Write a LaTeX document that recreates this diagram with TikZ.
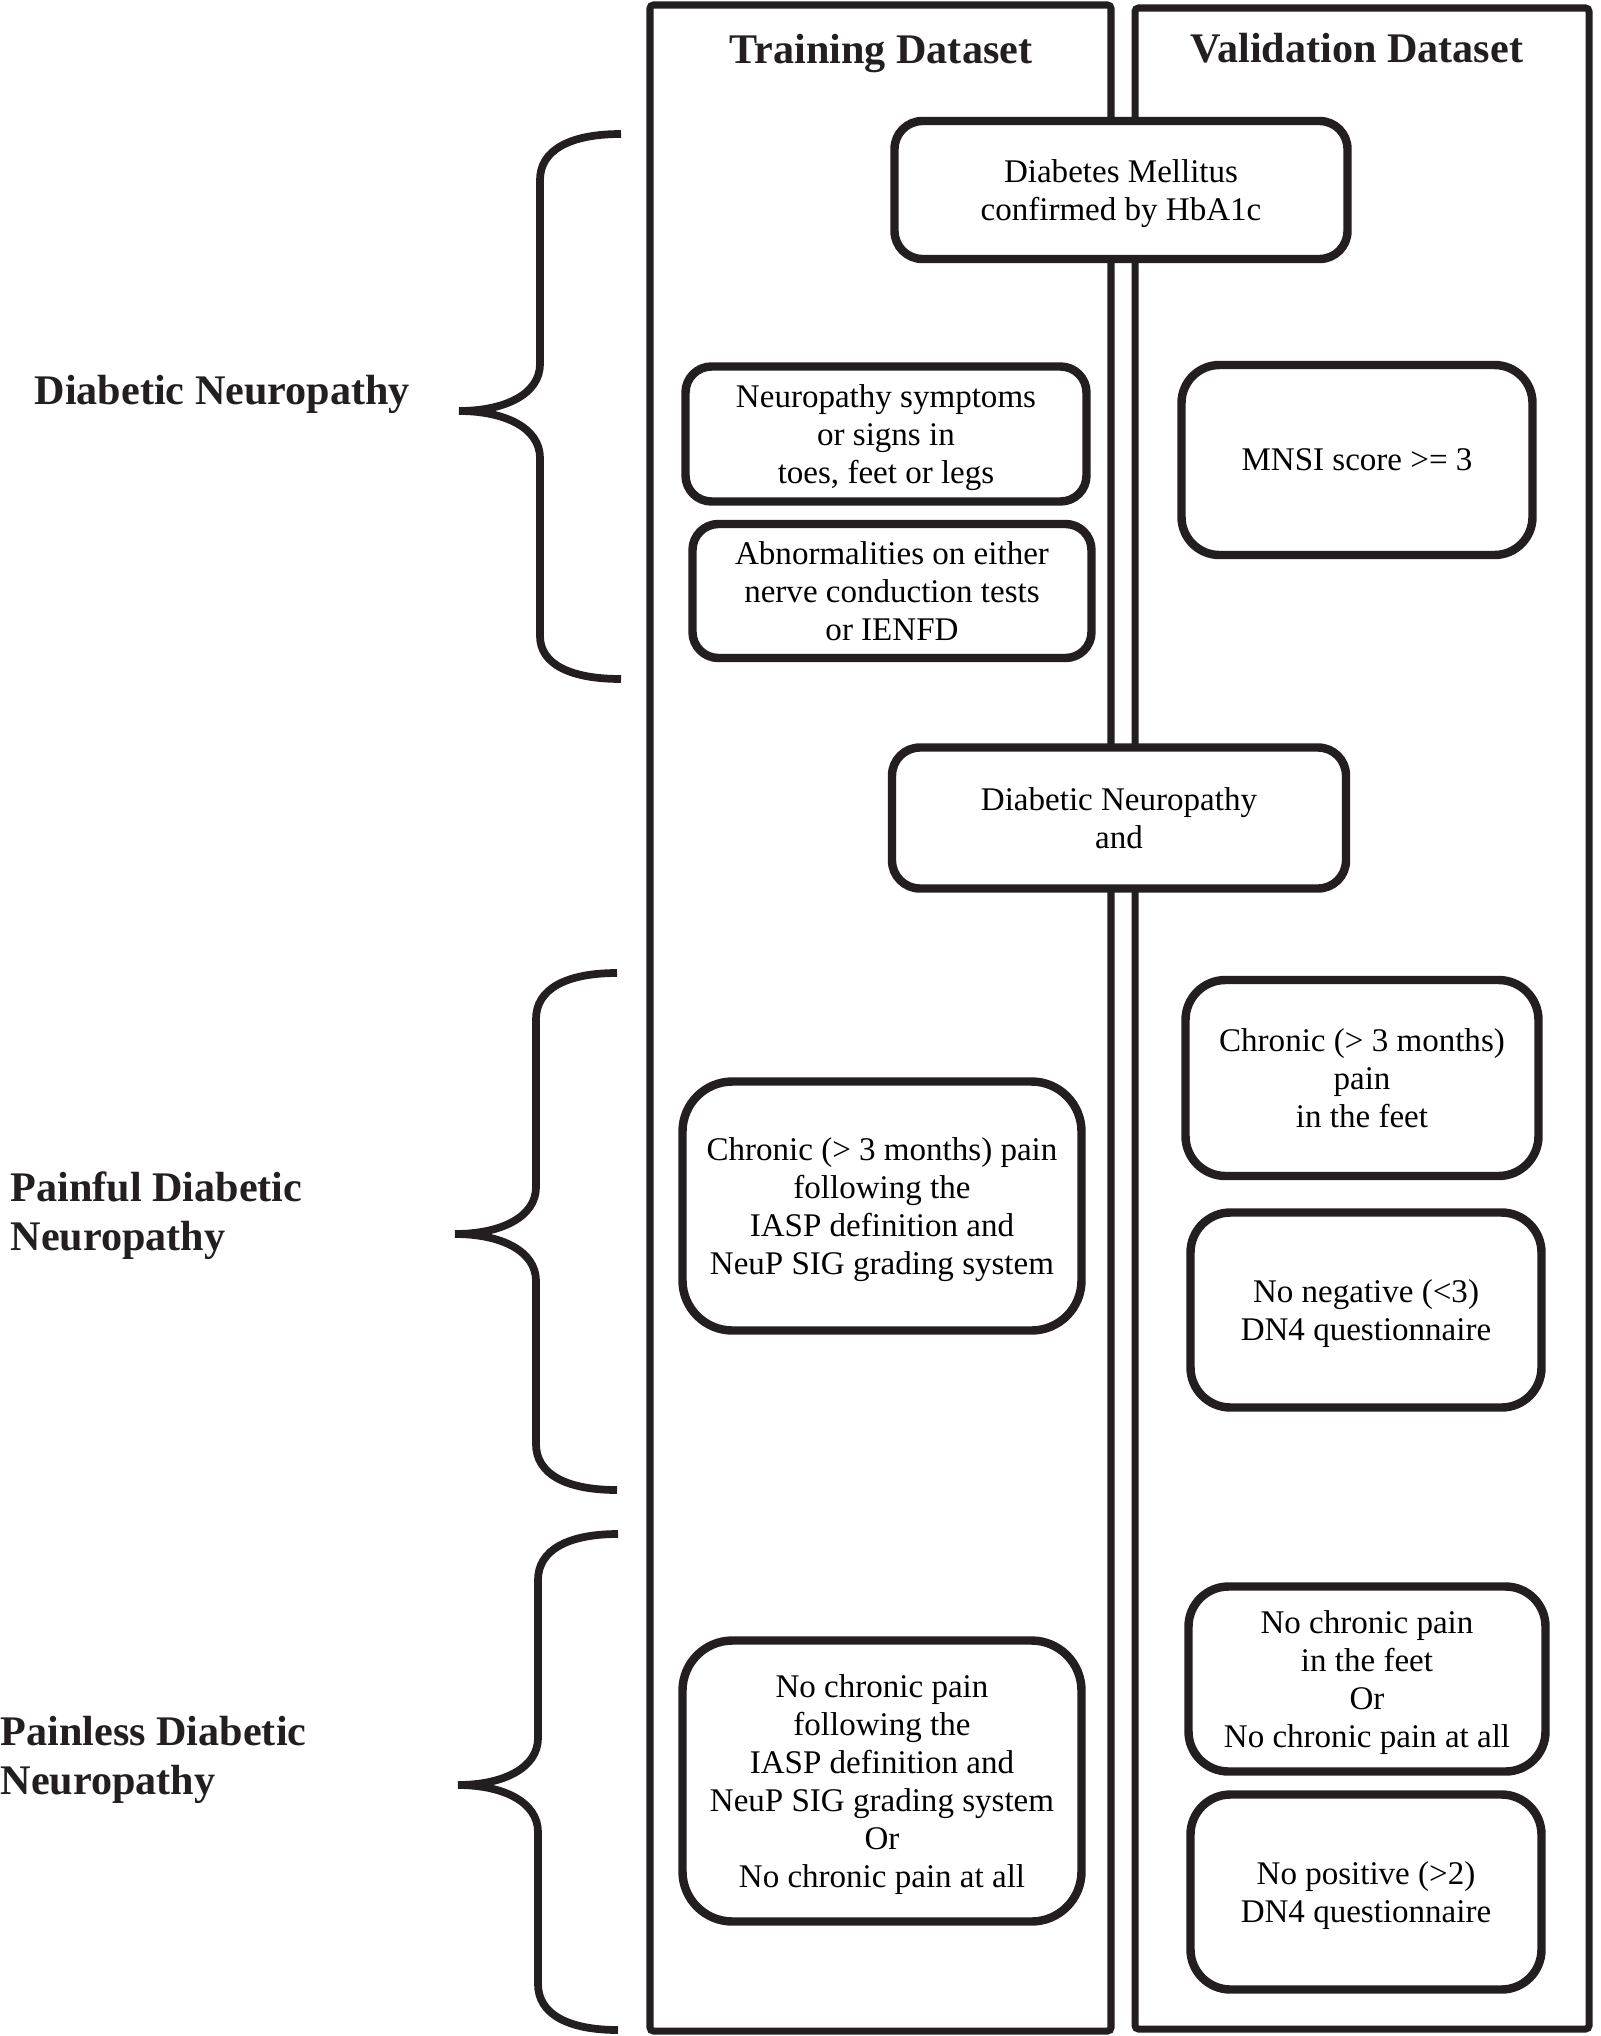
\documentclass[tikz,border=0pt]{standalone}
\usepackage{fontspec}
\setmainfont{Liberation Serif}
\definecolor{ink}{HTML}{231F20}

\tikzset{
	crit/.style={draw=ink, line width=2.4pt, fill=white, align=center, inner sep=0pt,
		font=\fontsize{9.4}{10.8}\selectfont, text depth=-2pt},
	column/.style={draw=ink, line width=2pt, rounded corners=1pt},
	header/.style={text=ink, anchor=base, font=\bfseries\fontsize{12}{14}\selectfont},
	group/.style={text=ink, inner sep=0pt, align=left, font=\bfseries\fontsize{12}{14}\selectfont},
	brace/.style={draw=ink, line width=2.2pt}
}

\begin{document}
\begin{tikzpicture}[x=0.1mm, y=-0.1mm]
	\useasboundingbox (0,0) rectangle (1600,2036);

	%Columns
	\draw[column] (650,5) rectangle (1111,2031);
	\draw[column] (1135,8) rectangle (1589,2029);
	\node[header] (train) at (881,63.5) {Training Dataset};
	\node[header] (valid) at (1357,62.5) {Validation Dataset};

	%Diabetic neuropathy
	\node[crit, rounded corners=2.8mm, minimum width=4.53cm, minimum height=1.38cm] (dm) at (1121,190) {Diabetes Mellitus\\confirmed by HbA1c};
	\node[crit, rounded corners=2.6mm, minimum width=4.01cm, minimum height=1.35cm] (symp) at (886,434) {Neuropathy symptoms\\or signs in\\toes, feet or legs};
	\node[crit, rounded corners=2.6mm, minimum width=3.99cm, minimum height=1.34cm] (abn) at (892,591) {Abnormalities on either\\nerve conduction tests\\or IENFD};
	\node[crit, rounded corners=3.8mm, minimum width=3.51cm, minimum height=1.90cm] (mnsi) at (1357,460) {MNSI score >= 3};
	\node[crit, rounded corners=2.8mm, minimum width=4.54cm, minimum height=1.41cm] (dn) at (1119,818) {Diabetic Neuropathy\\and};

	%Painful
	\node[crit, rounded corners=5mm, minimum width=3.99cm, minimum height=2.49cm] (chrpain) at (882,1206) {Chronic (> 3 months) pain\\following the\\IASP definition and\\NeuP SIG grading system};
	\node[crit, rounded corners=4mm, minimum width=3.53cm, minimum height=1.96cm] (chrfeet) at (1362,1078) {Chronic (> 3 months)\\pain\\in the feet};
	\node[crit, rounded corners=4mm, minimum width=3.51cm, minimum height=1.95cm] (dnneg) at (1366,1310) {No negative (<3)\\DN4 questionnaire};

	%Painless
	\node[crit, rounded corners=5mm, minimum width=3.99cm, minimum height=2.81cm] (nopain) at (882,1781) {No chronic pain\\following the\\IASP definition and\\NeuP SIG grading system\\Or\\No chronic pain at all};
	\node[crit, rounded corners=4mm, minimum width=3.57cm, minimum height=1.85cm] (nofeet) at (1367,1679) {No chronic pain\\in the feet\\Or\\No chronic pain at all};
	\node[crit, rounded corners=4mm, minimum width=3.51cm, minimum height=1.95cm] (dnpos) at (1366,1892) {No positive (>2)\\DN4 questionnaire};

	%Braces
	\draw[brace] (621,134) .. controls (570,134) and (540,150) .. (540,180) -- (540,364)
		.. controls (540,394) and (505,411) .. (459,411)
		.. controls (505,411) and (540,428) .. (540,458) -- (540,636)
		.. controls (540,664) and (570,679) .. (621,679);
	\node[group, anchor=west] (dnlab) at (34,394) {Diabetic Neuropathy};

	\draw[brace] (617,973) .. controls (566,973) and (536,989) .. (536,1019) -- (536,1187)
		.. controls (536,1217) and (501,1234) .. (455,1234)
		.. controls (501,1234) and (536,1251) .. (536,1281) -- (536,1444)
		.. controls (536,1474) and (566,1490) .. (617,1490);
	\node[group, anchor=west] (pdnlab) at (10,1216) {Painful Diabetic\\Neuropathy};

	\draw[brace] (618,1534) .. controls (568,1534) and (538,1550) .. (538,1580) -- (538,1738)
		.. controls (538,1768) and (503,1785) .. (458,1785)
		.. controls (503,1785) and (538,1802) .. (538,1832) -- (538,1984)
		.. controls (538,2014) and (568,2030) .. (618,2030);
	\node[group, anchor=west] (pldnlab) at (0,1760) {Painless Diabetic\\Neuropathy};
\end{tikzpicture}
\end{document}
